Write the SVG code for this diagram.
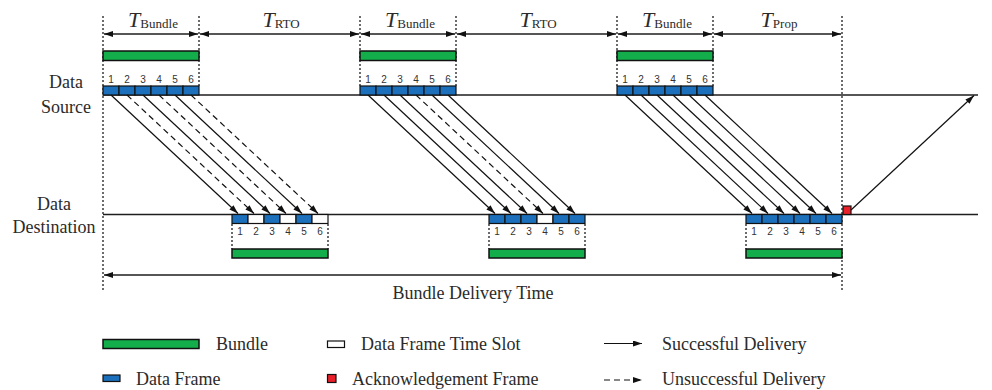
<svg xmlns="http://www.w3.org/2000/svg" width="992" height="390" viewBox="0 0 992 390">
  <style>
    .lbl { font-family: "Liberation Serif", "Times New Roman", serif; font-size: 18px; fill: #2b2b2b; }
    .tt { font-family: "Liberation Serif", "Times New Roman", serif; fill: #2b2b2b; }
    .tt .v { font-style: italic; font-size: 22px; }
    .tt .s { font-size: 13px; }
    .num { font-family: "Liberation Sans", Arial, sans-serif; font-size: 10px; fill: #333; text-anchor: middle; }
    .axis { stroke: #1e1e1e; stroke-width: 1.5; fill: none; }
    .dot { stroke: #1e1e1e; stroke-width: 1.3; stroke-dasharray: 2 2; fill: none; }
    .dim { stroke: #1e1e1e; stroke-width: 1.3; fill: none; marker-start: url(#headRev); marker-end: url(#head); }
    .bundle { fill: #13ae4b; stroke: #111; stroke-width: 1.5; }
    .frame { fill: #1b6fbb; stroke: #111; stroke-width: 1.2; }
    .slot { fill: #fff; stroke: #111; stroke-width: 1.2; }
    .ack { fill: #e8202a; stroke: #111; stroke-width: 1.2; }
    .ok { stroke: #111; stroke-width: 1.2; fill: none; marker-end: url(#head); }
    .fail { stroke: #111; stroke-width: 1.2; fill: none; stroke-dasharray: 6 4; marker-end: url(#head); }
  </style>
  <defs>
    <marker id="head" markerUnits="userSpaceOnUse" markerWidth="10" markerHeight="8" refX="9" refY="3" orient="auto">
      <path d="M0,0 L9,3 L0,6 Z" fill="#111"/>
    </marker>
    <marker id="headRev" markerUnits="userSpaceOnUse" markerWidth="10" markerHeight="8" refX="9" refY="3" orient="auto-start-reverse">
      <path d="M0,0 L9,3 L0,6 Z" fill="#111"/>
    </marker>
  </defs>

  <!-- time axes -->
  <g id="axes">
    <line class="axis" x1="103" y1="95" x2="978" y2="95"/>
    <line class="axis" x1="103" y1="214.5" x2="978" y2="214.5"/>
    <text class="lbl" x="66" y="88" text-anchor="middle">Data</text>
    <text class="lbl" x="66" y="112.5" text-anchor="middle">Source</text>
    <text class="lbl" x="54" y="210" text-anchor="middle">Data</text>
    <text class="lbl" x="54" y="233" text-anchor="middle">Destination</text>
  </g>

  <!-- interval markers -->
  <g id="intervals">
    <line class="dot" x1="103" y1="16" x2="103" y2="291"/>
    <line class="dot" x1="199" y1="16" x2="199" y2="86"/>
    <line class="dot" x1="360" y1="16" x2="360" y2="86"/>
    <line class="dot" x1="456" y1="16" x2="456" y2="86"/>
    <line class="dot" x1="617" y1="16" x2="617" y2="86"/>
    <line class="dot" x1="713" y1="16" x2="713" y2="86"/>
    <line class="dot" x1="842" y1="16" x2="842" y2="291"/>
    <line class="dim" x1="104" y1="34" x2="198" y2="34"/>
    <line class="dim" x1="200" y1="34" x2="359" y2="34"/>
    <line class="dim" x1="361" y1="34" x2="455" y2="34"/>
    <line class="dim" x1="457" y1="34" x2="616" y2="34"/>
    <line class="dim" x1="618" y1="34" x2="712" y2="34"/>
    <line class="dim" x1="714" y1="34" x2="841" y2="34"/>
    <text class="tt" x="153" y="26.5" text-anchor="middle"><tspan class="v">T</tspan><tspan class="s" dy="1.5">Bundle</tspan></text>
    <text class="tt" x="281" y="26.5" text-anchor="middle"><tspan class="v">T</tspan><tspan class="s" dy="1.5">RTO</tspan></text>
    <text class="tt" x="410" y="26.5" text-anchor="middle"><tspan class="v">T</tspan><tspan class="s" dy="1.5">Bundle</tspan></text>
    <text class="tt" x="538" y="26.5" text-anchor="middle"><tspan class="v">T</tspan><tspan class="s" dy="1.5">RTO</tspan></text>
    <text class="tt" x="667" y="26.5" text-anchor="middle"><tspan class="v">T</tspan><tspan class="s" dy="1.5">Bundle</tspan></text>
    <text class="tt" x="779" y="26.5" text-anchor="middle"><tspan class="v">T</tspan><tspan class="s" dy="1.5">Prop</tspan></text>
    <line class="dim" x1="104" y1="275" x2="841" y2="275"/>
    <text class="lbl" x="473" y="299" text-anchor="middle">Bundle Delivery Time</text>
  </g>

  <!-- source bundle 1 -->
  <g id="src-bundle-1">
    <rect class="bundle" x="103" y="51" width="96" height="9.5"/>
    <rect class="frame" x="103" y="86" width="16" height="9"/>
    <rect class="frame" x="119" y="86" width="16" height="9"/>
    <rect class="frame" x="135" y="86" width="16" height="9"/>
    <rect class="frame" x="151" y="86" width="16" height="9"/>
    <rect class="frame" x="167" y="86" width="16" height="9"/>
    <rect class="frame" x="183" y="86" width="16" height="9"/>
    <text class="num" y="83"><tspan x="111">1</tspan><tspan x="127">2</tspan><tspan x="143">3</tspan><tspan x="159">4</tspan><tspan x="175">5</tspan><tspan x="191">6</tspan></text>
  </g>

  <!-- source bundle 2 -->
  <g id="src-bundle-2">
    <rect class="bundle" x="360" y="51" width="96" height="9.5"/>
    <rect class="frame" x="360" y="86" width="16" height="9"/>
    <rect class="frame" x="376" y="86" width="16" height="9"/>
    <rect class="frame" x="392" y="86" width="16" height="9"/>
    <rect class="frame" x="408" y="86" width="16" height="9"/>
    <rect class="frame" x="424" y="86" width="16" height="9"/>
    <rect class="frame" x="440" y="86" width="16" height="9"/>
    <text class="num" y="83"><tspan x="368">1</tspan><tspan x="384">2</tspan><tspan x="400">3</tspan><tspan x="416">4</tspan><tspan x="432">5</tspan><tspan x="448">6</tspan></text>
  </g>

  <!-- source bundle 3 -->
  <g id="src-bundle-3">
    <rect class="bundle" x="617" y="51" width="96" height="9.5"/>
    <rect class="frame" x="617" y="86" width="16" height="9"/>
    <rect class="frame" x="633" y="86" width="16" height="9"/>
    <rect class="frame" x="649" y="86" width="16" height="9"/>
    <rect class="frame" x="665" y="86" width="16" height="9"/>
    <rect class="frame" x="681" y="86" width="16" height="9"/>
    <rect class="frame" x="697" y="86" width="16" height="9"/>
    <text class="num" y="83"><tspan x="625">1</tspan><tspan x="641">2</tspan><tspan x="657">3</tspan><tspan x="673">4</tspan><tspan x="689">5</tspan><tspan x="705">6</tspan></text>
  </g>

  <!-- destination bundle 1 -->
  <g id="dst-bundle-1">
    <rect class="frame" x="232" y="214.5" width="16" height="9"/>
    <rect class="slot" x="248" y="214.5" width="16" height="9"/>
    <rect class="frame" x="264" y="214.5" width="16" height="9"/>
    <rect class="slot" x="280" y="214.5" width="16" height="9"/>
    <rect class="frame" x="296" y="214.5" width="16" height="9"/>
    <rect class="slot" x="312" y="214.5" width="16" height="9"/>
    <line class="dot" x1="232" y1="224" x2="232" y2="249"/>
    <line class="dot" x1="328" y1="224" x2="328" y2="249"/>
    <text class="num" y="235"><tspan x="240">1</tspan><tspan x="256">2</tspan><tspan x="272">3</tspan><tspan x="288">4</tspan><tspan x="304">5</tspan><tspan x="320">6</tspan></text>
    <rect class="bundle" x="232" y="249" width="96" height="9"/>
  </g>

  <!-- destination bundle 2 -->
  <g id="dst-bundle-2">
    <rect class="frame" x="489" y="214.5" width="16" height="9"/>
    <rect class="frame" x="505" y="214.5" width="16" height="9"/>
    <rect class="frame" x="521" y="214.5" width="16" height="9"/>
    <rect class="slot" x="537" y="214.5" width="16" height="9"/>
    <rect class="frame" x="553" y="214.5" width="16" height="9"/>
    <rect class="frame" x="569" y="214.5" width="16" height="9"/>
    <line class="dot" x1="489" y1="224" x2="489" y2="249"/>
    <line class="dot" x1="585" y1="224" x2="585" y2="249"/>
    <text class="num" y="235"><tspan x="497">1</tspan><tspan x="513">2</tspan><tspan x="529">3</tspan><tspan x="545">4</tspan><tspan x="561">5</tspan><tspan x="577">6</tspan></text>
    <rect class="bundle" x="489" y="249" width="96" height="9"/>
  </g>

  <!-- destination bundle 3 and acknowledgement -->
  <g id="dst-bundle-3">
    <rect class="frame" x="746" y="214.5" width="16" height="9"/>
    <rect class="frame" x="762" y="214.5" width="16" height="9"/>
    <rect class="frame" x="778" y="214.5" width="16" height="9"/>
    <rect class="frame" x="794" y="214.5" width="16" height="9"/>
    <rect class="frame" x="810" y="214.5" width="16" height="9"/>
    <rect class="frame" x="826" y="214.5" width="16" height="9"/>
    <line class="dot" x1="746" y1="224" x2="746" y2="249"/>
    <text class="num" y="235"><tspan x="754">1</tspan><tspan x="770">2</tspan><tspan x="786">3</tspan><tspan x="802">4</tspan><tspan x="818">5</tspan><tspan x="834">6</tspan></text>
    <rect class="bundle" x="746" y="249" width="96" height="9"/>
  </g>
  <g id="ack">
    <rect class="ack" x="843" y="206" width="8" height="8.5"/>
  </g>

  <!-- frame transmissions -->
  <g id="connectors">
    <line class="ok" x1="111" y1="95" x2="238" y2="213.5"/>
    <line class="fail" x1="127" y1="95" x2="254" y2="213.5"/>
    <line class="ok" x1="143" y1="95" x2="270" y2="213.5"/>
    <line class="fail" x1="159" y1="95" x2="286" y2="213.5"/>
    <line class="ok" x1="175" y1="95" x2="302" y2="213.5"/>
    <line class="fail" x1="191" y1="95" x2="318" y2="213.5"/>

    <line class="ok" x1="368" y1="95" x2="495" y2="213.5"/>
    <line class="ok" x1="384" y1="95" x2="511" y2="213.5"/>
    <line class="ok" x1="400" y1="95" x2="527" y2="213.5"/>
    <line class="fail" x1="416" y1="95" x2="543" y2="213.5"/>
    <line class="ok" x1="432" y1="95" x2="559" y2="213.5"/>
    <line class="ok" x1="448" y1="95" x2="575" y2="213.5"/>

    <line class="ok" x1="625" y1="95" x2="752" y2="213.5"/>
    <line class="ok" x1="641" y1="95" x2="768" y2="213.5"/>
    <line class="ok" x1="657" y1="95" x2="784" y2="213.5"/>
    <line class="ok" x1="673" y1="95" x2="800" y2="213.5"/>
    <line class="ok" x1="689" y1="95" x2="816" y2="213.5"/>
    <line class="ok" x1="705" y1="95" x2="832" y2="213.5"/>

    <line class="ok" x1="851" y1="210" x2="974" y2="95.5"/>
  </g>

  <!-- legend -->
  <g id="legend">
    <rect class="bundle" x="103" y="339.5" width="96" height="9"/>
    <text class="lbl" x="216" y="350">Bundle</text>
    <rect class="slot" x="327.5" y="341" width="17" height="6.5"/>
    <text class="lbl" x="361" y="350">Data Frame Time Slot</text>
    <line class="ok" x1="604" y1="343.5" x2="642" y2="343.5"/>
    <text class="lbl" x="662" y="350">Successful Delivery</text>
    <rect class="frame" x="103" y="375" width="17" height="6.5"/>
    <text class="lbl" x="136" y="385">Data Frame</text>
    <rect class="ack" x="327.5" y="374.5" width="8.5" height="8"/>
    <text class="lbl" x="352" y="385">Acknowledgement Frame</text>
    <line class="fail" x1="604" y1="380" x2="642" y2="380"/>
    <text class="lbl" x="662" y="385">Unsuccessful Delivery</text>
  </g>
</svg>
